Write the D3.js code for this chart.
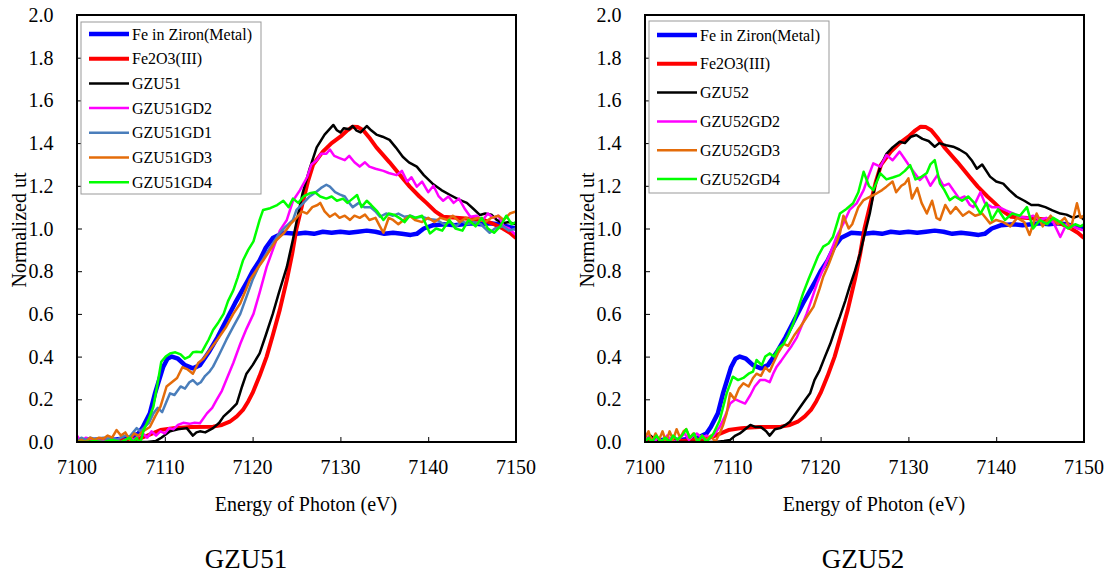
<!DOCTYPE html>
<html>
<head>
<meta charset="utf-8">
<script src="https://cdn.jsdelivr.net/npm/d3@7"></script>
<style>
  body { margin: 0; background: #fff; }
</style>
</head>
<body>
<svg width="1110" height="573" font-family="'Liberation Serif', 'DejaVu Serif', serif"></svg>
<script>
'use strict';

// reference spectra, shared by both panels  [energy eV, normalized ut]
var feMetal = [[7100,0.0],[7102,0.01],[7104,0.01],[7106,0.02],[7107,0.04],[7107.5,0.07],[7108.3,0.134],[7108.9,0.23],[7109.8,0.35],[7110.3,0.39],[7110.8,0.40],[7111.5,0.39],[7112.3,0.36],[7113.2,0.345],[7114,0.36],[7115,0.42],[7116,0.49],[7117,0.57],[7118,0.65],[7119.3,0.745],[7120,0.80],[7120.8,0.85],[7121.5,0.91],[7122.3,0.955],[7123.5,0.98],[7125,0.975],[7126,0.98],[7127,0.975],[7128,0.985],[7129,0.98],[7130,0.985],[7131,0.98],[7132,0.985],[7133,0.99],[7134,0.985],[7135,0.975],[7136,0.98],[7137,0.975],[7138,0.97],[7138.7,0.975],[7139.5,1.0],[7140.5,1.015],[7142,1.02],[7143,1.015],[7144,1.02],[7145,1.025],[7146,1.02],[7147,1.025],[7148,1.02],[7149,1.01],[7150,1.0]];
var fe2o3 = [[7100,0.0],[7104,0.005],[7106,0.01],[7107,0.015],[7108,0.03],[7109.5,0.056],[7111,0.065],[7113,0.07],[7115.5,0.072],[7116.5,0.08],[7117.4,0.095],[7118.2,0.12],[7118.9,0.15],[7119.5,0.19],[7120,0.23],[7120.8,0.31],[7121.6,0.40],[7122.3,0.50],[7123.1,0.62],[7123.9,0.76],[7124.5,0.88],[7125,1.0],[7125.7,1.12],[7126.3,1.22],[7126.9,1.30],[7128,1.36],[7129,1.40],[7130,1.43],[7130.8,1.46],[7131.4,1.477],[7132,1.475],[7132.6,1.46],[7133.4,1.42],[7134.1,1.38],[7135.6,1.31],[7137,1.24],[7137.9,1.196],[7139,1.15],[7139.8,1.12],[7140.8,1.08],[7141.7,1.055],[7143.2,1.05],[7145,1.045],[7146.3,1.04],[7147.5,1.02],[7148.5,1.0],[7149.3,0.98],[7150,0.955]];

// GZU51 samples
var gzu51 = [[7100,0],[7103,0],[7106,0],[7108,0],[7109,0.005],[7109.6,0.02],[7110.6,0.05],[7111.5,0.06],[7112.5,0.065],[7113.2,0.03],[7113.6,0.045],[7114,0.05],[7114.6,0.045],[7115.5,0.065],[7116.2,0.09],[7116.7,0.12],[7117.5,0.15],[7118.2,0.18],[7118.8,0.26],[7119.3,0.32],[7120,0.36],[7120.8,0.415],[7121.5,0.50],[7122.3,0.60],[7123,0.70],[7123.9,0.82],[7124.6,0.95],[7125.2,1.07],[7125.7,1.166],[7126.5,1.28],[7127.3,1.38],[7128.2,1.44],[7129.2,1.485],[7129.6,1.46],[7130,1.45],[7130.4,1.47],[7131,1.465],[7131.4,1.48],[7131.8,1.46],[7132.3,1.45],[7133,1.48],[7133.5,1.46],[7134.1,1.44],[7134.8,1.43],[7135.6,1.415],[7136.3,1.38],[7137.1,1.336],[7137.8,1.31],[7138.7,1.29],[7139.5,1.25],[7140.5,1.21],[7141.5,1.18],[7142.5,1.157],[7143.5,1.135],[7144.4,1.12],[7145.2,1.09],[7145.9,1.063],[7146.5,1.07],[7147.2,1.065],[7147.8,1.04],[7148.5,1.025],[7149.2,1.03],[7150,1.02]];
var gzu51gd2 = [[7100,0.03],[7100.5,0.0],[7101,0.02],[7102,0.01],[7103,0.005],[7104,0.01],[7105,0.0],[7106,0.02],[7106.5,0.01],[7107,0.03],[7107.5,0.04],[7108,0.02],[7108.5,0.05],[7109,0.03],[7109.5,0.05],[7110,0.04],[7110.5,0.065],[7111,0.06],[7111.5,0.08],[7112.1,0.09],[7112.8,0.085],[7113.4,0.09],[7114,0.088],[7114.8,0.134],[7115.4,0.16],[7115.9,0.197],[7116.5,0.24],[7117,0.29],[7117.8,0.37],[7118.6,0.46],[7119.3,0.53],[7120.1,0.60],[7120.8,0.70],[7121.6,0.82],[7122.3,0.90],[7123.1,0.99],[7123.9,1.04],[7124.6,1.13],[7125.4,1.18],[7126.2,1.24],[7126.7,1.30],[7127.3,1.32],[7127.8,1.35],[7128.4,1.35],[7128.8,1.37],[7129.3,1.34],[7129.9,1.33],[7130.5,1.32],[7131,1.34],[7131.6,1.31],[7132.2,1.29],[7132.8,1.31],[7133.3,1.29],[7134,1.28],[7134.9,1.27],[7135.5,1.26],[7136.4,1.25],[7137,1.27],[7137.6,1.22],[7138.1,1.24],[7138.7,1.196],[7139.3,1.22],[7140,1.17],[7140.6,1.2],[7141.2,1.15],[7141.7,1.13],[7142.3,1.15],[7142.9,1.12],[7143.5,1.14],[7144.2,1.09],[7144.8,1.055],[7145.5,1.06],[7146.2,1.04],[7146.8,1.07],[7147.4,1.05],[7148,1.06],[7148.6,1.01],[7149.2,1.0],[7149.7,0.98],[7150,0.97]];
var gzu51gd1 = [[7100,0.0],[7100.5,0.02],[7101,0.01],[7101.5,0.02],[7102,0.015],[7103,0.02],[7103.5,0.015],[7104,0.02],[7104.5,0.01],[7105,0.02],[7105.5,0.03],[7106,0.025],[7106.4,0.045],[7106.8,0.065],[7107.2,0.05],[7107.7,0.07],[7108.2,0.09],[7108.7,0.134],[7109.2,0.16],[7109.7,0.14],[7110.2,0.19],[7110.6,0.228],[7111.1,0.22],[7111.8,0.26],[7112.3,0.25],[7112.8,0.28],[7113.2,0.29],[7113.7,0.27],[7114.1,0.28],[7114.6,0.31],[7115.1,0.33],[7115.5,0.353],[7116.2,0.41],[7117,0.478],[7117.8,0.54],[7118.6,0.60],[7119.3,0.68],[7120,0.76],[7120.8,0.83],[7121.6,0.885],[7122.3,0.93],[7123.1,0.98],[7123.8,1.01],[7124.6,1.04],[7125,1.087],[7125.8,1.12],[7126.5,1.15],[7127.2,1.17],[7127.8,1.19],[7128.4,1.205],[7128.8,1.196],[7129.4,1.17],[7129.9,1.16],[7130.5,1.15],[7131,1.12],[7131.4,1.10],[7132.1,1.12],[7132.7,1.10],[7133.4,1.10],[7134,1.08],[7134.5,1.055],[7135.2,1.07],[7136,1.06],[7136.6,1.07],[7137.3,1.055],[7138,1.06],[7138.6,1.05],[7139.3,1.055],[7140,1.045],[7141,1.04],[7141.8,1.02],[7142.5,1.03],[7143.2,1.01],[7143.8,1.035],[7144.5,1.02],[7145.2,1.03],[7146,1.02],[7146.5,1.0],[7147,0.98],[7147.6,1.0],[7148.5,1.01],[7149.2,0.99],[7150,1.0]];
var gzu51gd3 = [[7100,0.0],[7100.5,0.01],[7101,0.0],[7101.5,0.02],[7102,0.01],[7102.5,0.02],[7103,0.015],[7103.5,0.03],[7104,0.02],[7104.5,0.056],[7105,0.03],[7105.5,0.045],[7106,0.01],[7106.5,0.04],[7107,0.03],[7107.5,0.05],[7108.3,0.07],[7108.9,0.12],[7109.5,0.165],[7110.2,0.26],[7110.8,0.28],[7111.4,0.30],[7112,0.35],[7112.6,0.34],[7113.2,0.32],[7113.8,0.37],[7114.4,0.39],[7115.1,0.43],[7116,0.48],[7117,0.54],[7117.8,0.60],[7118.6,0.65],[7119.2,0.71],[7119.7,0.76],[7120.5,0.81],[7121.2,0.85],[7122,0.90],[7122.7,0.945],[7123.6,0.98],[7124.3,1.02],[7125,1.05],[7125.6,1.08],[7126.2,1.07],[7126.8,1.1],[7127.4,1.11],[7127.7,1.12],[7128.2,1.08],[7128.8,1.055],[7129.4,1.07],[7129.9,1.05],[7130.5,1.06],[7131.1,1.04],[7131.6,1.06],[7132.2,1.05],[7132.8,1.065],[7133.3,1.04],[7134,1.05],[7134.5,1.01],[7134.9,0.98],[7135.5,1.05],[7136,1.04],[7136.6,1.02],[7137.2,1.04],[7137.9,1.06],[7138.5,1.04],[7139.3,1.03],[7140,1.05],[7140.7,1.03],[7141.4,1.05],[7142.2,1.04],[7142.8,1.06],[7143.6,1.03],[7144.3,1.05],[7145,1.04],[7145.7,1.05],[7146.5,1.03],[7147.2,1.05],[7148,1.06],[7148.6,1.04],[7149.3,1.07],[7150,1.08]];
var gzu51gd4 = [[7100,0.0],[7101,0.0],[7102,0.005],[7103,0.0],[7104,0.01],[7105,0.0],[7105.5,0.01],[7106,0.02],[7106.4,0.0],[7106.8,0.02],[7107,0.0],[7107.3,0.01],[7107.6,0.056],[7108.2,0.11],[7108.7,0.165],[7109.2,0.28],[7109.6,0.376],[7110.1,0.40],[7110.6,0.415],[7111.2,0.42],[7111.8,0.41],[7112.3,0.39],[7112.8,0.40],[7113.2,0.42],[7113.6,0.423],[7114.2,0.42],[7114.6,0.45],[7115,0.48],[7115.5,0.525],[7116.1,0.56],[7116.7,0.60],[7117.2,0.66],[7117.8,0.71],[7118.3,0.77],[7118.9,0.85],[7119.5,0.90],[7120.1,0.94],[7120.8,1.04],[7121.2,1.087],[7122,1.095],[7122.8,1.11],[7123.5,1.13],[7124.1,1.10],[7124.6,1.14],[7125.2,1.12],[7125.8,1.15],[7126.5,1.165],[7127.1,1.17],[7127.7,1.15],[7128.4,1.14],[7129,1.15],[7129.6,1.13],[7130.3,1.14],[7130.8,1.12],[7131.4,1.14],[7131.9,1.157],[7132.4,1.10],[7133,1.13],[7133.5,1.11],[7134.2,1.08],[7134.9,1.04],[7135.5,1.07],[7136.1,1.065],[7136.7,1.05],[7137.3,1.03],[7137.9,1.06],[7138.5,1.05],[7139.3,1.06],[7140.2,0.977],[7140.9,1.0],[7141.6,0.99],[7142.4,1.04],[7143.1,1.0],[7143.9,0.99],[7144.6,1.04],[7145.4,1.01],[7146.1,1.05],[7146.8,1.0],[7147.5,0.98],[7148.2,1.01],[7148.9,1.06],[7149.5,1.02],[7150,1.03]];

// GZU52 samples
var gzu52 = [[7100,0.0],[7100.6,0.03],[7101.2,0.01],[7102,0.0],[7103,0.01],[7104,0.0],[7106,0.0],[7108,0.0],[7109,0.005],[7109.7,0.01],[7110.3,0.03],[7110.8,0.04],[7111.4,0.06],[7112,0.08],[7112.6,0.07],[7113.2,0.07],[7113.8,0.05],[7114.2,0.03],[7114.8,0.06],[7115.4,0.065],[7116,0.08],[7116.5,0.095],[7117.1,0.13],[7117.7,0.165],[7118.3,0.2],[7118.8,0.228],[7119.3,0.29],[7119.9,0.337],[7120.5,0.40],[7121.1,0.46],[7121.6,0.52],[7122.2,0.587],[7122.8,0.66],[7123.3,0.727],[7123.9,0.80],[7124.5,0.884],[7125,0.97],[7125.6,1.07],[7126.2,1.20],[7126.8,1.29],[7127.5,1.35],[7128.2,1.38],[7129,1.406],[7129.6,1.40],[7130.3,1.43],[7130.9,1.438],[7131.6,1.42],[7132.3,1.41],[7133,1.383],[7133.5,1.40],[7134.3,1.39],[7135.1,1.383],[7135.8,1.37],[7136.6,1.35],[7137.2,1.32],[7137.8,1.28],[7138.4,1.30],[7139.3,1.243],[7140,1.22],[7140.8,1.21],[7141.5,1.18],[7142.3,1.15],[7143.2,1.13],[7144,1.11],[7144.8,1.11],[7145.6,1.10],[7146.4,1.085],[7147.3,1.07],[7148,1.065],[7148.8,1.05],[7149.5,1.06],[7150,1.04]];
var gzu52gd2 = [[7100,0.01],[7100.5,0.03],[7101,0.0],[7101.5,0.02],[7102,0.0],[7102.5,0.03],[7103,0.01],[7103.5,0.0],[7104,0.02],[7104.5,0.04],[7105,0.01],[7105.5,0.03],[7105.9,0.04],[7106.5,0.02],[7107,0.03],[7107.4,0.02],[7107.8,0.03],[7108.5,0.07],[7109.1,0.12],[7109.7,0.18],[7110.3,0.20],[7110.8,0.19],[7111.4,0.18],[7112,0.22],[7112.5,0.26],[7113.1,0.29],[7113.7,0.29],[7114.2,0.28],[7114.6,0.32],[7115,0.353],[7115.5,0.38],[7116.1,0.415],[7116.7,0.45],[7117.3,0.49],[7117.8,0.54],[7118.4,0.60],[7119,0.67],[7119.6,0.743],[7120.3,0.81],[7121.1,0.884],[7121.8,0.96],[7122.6,1.024],[7123.3,1.087],[7124.1,1.118],[7124.9,1.18],[7125.4,1.24],[7126,1.305],[7126.8,1.29],[7127.5,1.344],[7128.2,1.32],[7129,1.36],[7129.5,1.33],[7130,1.30],[7130.7,1.26],[7131.3,1.227],[7131.9,1.25],[7132.5,1.20],[7133.3,1.25],[7134,1.20],[7134.6,1.21],[7135.1,1.18],[7135.8,1.14],[7136.4,1.15],[7137,1.11],[7137.4,1.10],[7138.2,1.17],[7138.7,1.12],[7139.5,1.10],[7140.3,1.10],[7141.1,1.085],[7142,1.07],[7142.7,1.055],[7143.5,1.05],[7144.2,1.06],[7145,1.04],[7145.7,1.05],[7146.5,1.03],[7147.3,0.96],[7148,1.02],[7148.7,1.01],[7149.3,1.0],[7150,0.99]];
var gzu52gd3 = [[7100,0.02],[7100.4,0.05],[7100.8,0.0],[7101.2,0.04],[7101.6,0.01],[7102,0.05],[7102.4,0.0],[7102.8,0.05],[7103.2,0.01],[7103.6,0.06],[7104,0.02],[7104.4,0.05],[7104.7,0.06],[7105.1,0.02],[7105.5,0.04],[7106,0.0],[7106.5,0.03],[7107,0.01],[7107.5,0.03],[7108,0.0],[7108.5,0.04],[7108.9,0.08],[7109.3,0.134],[7109.7,0.228],[7110.2,0.20],[7110.7,0.25],[7111.2,0.275],[7111.8,0.26],[7112.3,0.30],[7112.7,0.32],[7113.2,0.31],[7113.7,0.35],[7114.2,0.33],[7114.6,0.368],[7115.2,0.42],[7115.8,0.46],[7116.3,0.45],[7117,0.50],[7117.7,0.54],[7118.5,0.59],[7119.2,0.634],[7119.9,0.72],[7120.3,0.774],[7120.9,0.83],[7121.4,0.884],[7122.2,0.977],[7122.6,1.06],[7123.2,1.0],[7123.6,1.02],[7124.3,1.10],[7124.9,1.133],[7125.7,1.15],[7126.4,1.165],[7127,1.18],[7127.5,1.196],[7128.2,1.22],[7128.6,1.17],[7129.2,1.20],[7129.6,1.21],[7130,1.235],[7130.4,1.14],[7131,1.19],[7131.5,1.12],[7132.1,1.07],[7132.7,1.13],[7133.2,1.05],[7133.6,1.04],[7134.2,1.11],[7134.8,1.07],[7135.4,1.10],[7136.2,1.06],[7136.9,1.08],[7137.6,1.06],[7138.4,1.07],[7139.3,1.024],[7140,1.04],[7140.8,1.03],[7141.6,1.01],[7142.4,1.05],[7143.2,1.03],[7143.8,0.97],[7144.6,1.07],[7145.3,1.01],[7146.2,1.06],[7147,1.02],[7147.8,1.05],[7148.5,1.0],[7149.2,1.118],[7149.6,1.05],[7150,1.06]];
var gzu52gd4 = [[7100,0.0],[7100.4,0.02],[7100.8,0.0],[7101.3,0.03],[7101.8,0.0],[7102.3,0.02],[7102.8,0.0],[7103.2,0.03],[7103.7,0.01],[7104.2,0.03],[7104.7,0.06],[7105.1,0.02],[7105.6,0.04],[7106,0.0],[7106.5,0.03],[7107,0.0],[7107.4,0.02],[7107.8,0.04],[7108.5,0.10],[7109.3,0.228],[7110,0.306],[7110.6,0.29],[7111.2,0.30],[7111.8,0.32],[7112.3,0.33],[7112.7,0.384],[7113.3,0.36],[7113.7,0.40],[7114.2,0.415],[7114.7,0.40],[7115.2,0.44],[7115.8,0.46],[7116.3,0.50],[7116.9,0.556],[7117.4,0.62],[7118,0.696],[7118.6,0.76],[7119.2,0.82],[7119.7,0.87],[7120.3,0.915],[7120.9,0.93],[7121.4,0.96],[7122.2,1.07],[7122.9,1.09],[7123.7,1.118],[7124.3,1.17],[7124.9,1.266],[7125.5,1.20],[7126,1.18],[7126.8,1.258],[7127.5,1.23],[7128.3,1.24],[7129,1.25],[7129.6,1.27],[7130.2,1.297],[7130.8,1.23],[7131.4,1.24],[7132.1,1.26],[7132.5,1.30],[7133,1.32],[7133.6,1.21],[7134.1,1.18],[7134.7,1.133],[7135.3,1.15],[7136.1,1.13],[7136.8,1.15],[7137.5,1.12],[7138.2,1.07],[7138.9,1.12],[7139.5,1.04],[7140.2,1.09],[7141,1.04],[7141.8,1.07],[7142.7,1.06],[7143.5,1.10],[7144.2,1.00],[7145,1.04],[7145.8,1.02],[7146.5,1.05],[7147.3,1.03],[7148.2,1.0],[7149,1.02],[7149.6,1.01],[7150,1.02]];

var xTicks = [7100, 7110, 7120, 7130, 7140, 7150];
var yTicks = [0, 0.2, 0.4, 0.6, 0.8, 1.0, 1.2, 1.4, 1.6, 1.8, 2.0];

var panels = [
  { left: 77, title: 'GZU51', titleX: 246, xLabelX: 306, legendY: 22, legendFirst: 12, legendStep: 24.7,
    series: [
      {name: 'Fe in Ziron(Metal)', data: feMetal, color: '#0000ff', w: 4.5},
      {name: 'Fe2O3(III)', data: fe2o3, color: '#ff0000', w: 4},
      {name: 'GZU51', data: gzu51, color: '#000000', w: 2.5},
      {name: 'GZU51GD2', data: gzu51gd2, color: '#ff00ff', w: 2.5},
      {name: 'GZU51GD1', data: gzu51gd1, color: '#4a7ebb', w: 2.5},
      {name: 'GZU51GD3', data: gzu51gd3, color: '#e46c0a', w: 2.5},
      {name: 'GZU51GD4', data: gzu51gd4, color: '#00ff00', w: 2.5}
    ]},
  { left: 645, title: 'GZU52', titleX: 863, xLabelX: 874, legendY: 21, legendFirst: 14, legendStep: 28.8,
    series: [
      {name: 'Fe in Ziron(Metal)', data: feMetal, color: '#0000ff', w: 4.5},
      {name: 'Fe2O3(III)', data: fe2o3, color: '#ff0000', w: 4},
      {name: 'GZU52', data: gzu52, color: '#000000', w: 2.5},
      {name: 'GZU52GD2', data: gzu52gd2, color: '#ff00ff', w: 2.5},
      {name: 'GZU52GD3', data: gzu52gd3, color: '#e46c0a', w: 2.5},
      {name: 'GZU52GD4', data: gzu52gd4, color: '#00ff00', w: 2.5}
    ]}
];

var serif = "'Liberation Serif', 'DejaVu Serif', serif";
var svg = d3.select('svg');
var plotTop = 15, plotBottom = 442, plotW = 439;

panels.forEach(function(p, i){
  var x = d3.scaleLinear().domain([7100, 7150]).range([p.left, p.left + plotW]);
  var y = d3.scaleLinear().domain([0, 2]).range([plotBottom, plotTop]);
  var g = svg.append('g');

  g.append('clipPath').attr('id', 'clip' + i)
    .append('rect').attr('x', p.left).attr('y', plotTop).attr('width', plotW).attr('height', plotBottom - plotTop);

  // axes, ticks pointing inward
  var yAxis = g.append('g').attr('transform', 'translate(' + p.left + ',0)')
    .call(d3.axisRight(y).tickValues(yTicks).tickSize(5).tickFormat(''));
  yAxis.select('.domain').remove();
  yAxis.selectAll('line').attr('stroke', '#000');
  yTicks.forEach(function(t){
    g.append('text').attr('x', p.left - 23.5).attr('y', y(t) + 7)
      .attr('text-anchor', 'end').attr('font-family', serif).attr('font-size', 20).text(t.toFixed(1));
  });

  var xAxis = g.append('g').attr('transform', 'translate(0,' + plotBottom + ')')
    .call(d3.axisTop(x).tickValues(xTicks).tickSize(5).tickFormat(''));
  xAxis.select('.domain').remove();
  xAxis.selectAll('line').attr('stroke', '#000');
  xTicks.forEach(function(t){
    g.append('text').attr('x', x(t)).attr('y', plotBottom + 32)
      .attr('text-anchor', 'middle').attr('font-family', serif).attr('font-size', 20).text(t);
  });

  // the curves
  var line = d3.line().x(function(d){ return x(d[0]); }).y(function(d){ return y(d[1]); });
  g.append('g').attr('clip-path', 'url(#clip' + i + ')')
    .selectAll('path').data(p.series).enter().append('path')
    .attr('d', function(s){ return line(s.data); })
    .attr('fill', 'none')
    .attr('stroke', function(s){ return s.color; })
    .attr('stroke-width', function(s){ return s.w; })
    .attr('stroke-linejoin', 'round');

  // frame
  g.append('rect').attr('x', p.left).attr('y', plotTop).attr('width', plotW).attr('height', plotBottom - plotTop)
    .attr('fill', 'none').attr('stroke', '#000').attr('stroke-width', 2);

  // legend
  var lg = g.append('g').attr('transform', 'translate(' + (p.left + 4) + ',' + p.legendY + ')');
  lg.append('rect').attr('width', 180).attr('height', 172)
    .attr('fill', '#fff').attr('stroke', '#999').attr('stroke-width', 1);
  var item = lg.selectAll('g.item').data(p.series).enter().append('g').attr('class', 'item')
    .attr('transform', function(s, k){ return 'translate(0,' + (p.legendFirst + k * p.legendStep) + ')'; });
  item.append('line').attr('x1', 8).attr('x2', 48).attr('y1', 0).attr('y2', 0)
    .attr('stroke', function(s){ return s.color; })
    .attr('stroke-width', function(s){ return s.w; });
  item.append('text').attr('x', 51).attr('y', 5.5).attr('font-family', serif).attr('font-size', 16)
    .text(function(s){ return s.name; });

  // labels
  g.append('text').attr('x', p.xLabelX).attr('y', 511).attr('text-anchor', 'middle')
    .attr('font-family', serif).attr('font-size', 20).text('Energy of Photon (eV)');
  g.append('text').attr('transform', 'translate(' + (p.left - 51.5) + ',' + 230 + ') rotate(-90)')
    .attr('text-anchor', 'middle').attr('font-family', serif).attr('font-size', 20).text('Normalized ut');
  g.append('text').attr('x', p.titleX).attr('y', 568).attr('text-anchor', 'middle')
    .attr('font-family', serif).attr('font-size', 27).text(p.title);
});
</script>
</body>
</html>
